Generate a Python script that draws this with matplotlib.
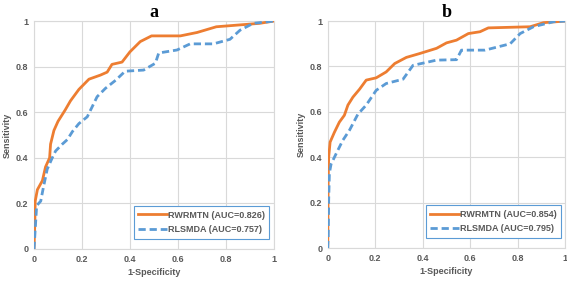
import matplotlib
matplotlib.use("Agg")
import matplotlib.pyplot as plt

# Panel a
a_rwr_x = [0, 0.003, 0.005, 0.014, 0.035, 0.048, 0.065, 0.069, 0.083, 0.10, 0.118, 0.13, 0.152, 0.187,
           0.229, 0.277, 0.305, 0.325, 0.367, 0.40, 0.443, 0.49, 0.61, 0.68, 0.76, 0.94, 1.0]
a_rwr_y = [0, 0.10, 0.21, 0.26, 0.30, 0.36, 0.40, 0.46, 0.52, 0.56, 0.59, 0.61, 0.65, 0.70,
           0.745, 0.763, 0.776, 0.81, 0.82, 0.865, 0.91, 0.935, 0.935, 0.95, 0.975, 0.99, 1.0]
a_rls_x = [0, 0.004, 0.011, 0.028, 0.039, 0.055, 0.076, 0.09, 0.118, 0.139, 0.16, 0.187, 0.222, 0.263,
           0.298, 0.34, 0.38, 0.457, 0.506, 0.52, 0.596, 0.651, 0.748, 0.817, 0.859, 0.914, 1.0]
a_rls_y = [0, 0.07, 0.19, 0.21, 0.27, 0.35, 0.40, 0.43, 0.46, 0.48, 0.515, 0.55, 0.58, 0.668,
           0.705, 0.74, 0.78, 0.785, 0.815, 0.86, 0.873, 0.90, 0.90, 0.92, 0.96, 0.99, 1.0]

# Panel b
b_rwr_x = [0, 0.002, 0.004, 0.01, 0.028, 0.049, 0.07, 0.085, 0.106, 0.134, 0.162, 0.204, 0.246, 0.282,
           0.331, 0.387, 0.458, 0.5, 0.542, 0.592, 0.641, 0.676, 0.852, 0.908, 1.0]
b_rwr_y = [0, 0.30, 0.40, 0.467, 0.51, 0.555, 0.585, 0.63, 0.665, 0.70, 0.74, 0.75, 0.776, 0.813,
           0.84, 0.857, 0.88, 0.904, 0.916, 0.945, 0.953, 0.97, 0.975, 0.993, 1.0]
b_rls_x = [0, 0.002, 0.004, 0.007, 0.014, 0.035, 0.063, 0.092, 0.127, 0.162, 0.204, 0.246, 0.317, 0.359,
           0.458, 0.542, 0.563, 0.662, 0.768, 0.81, 0.866, 0.95, 1.0]
b_rls_y = [0, 0.05, 0.21, 0.33, 0.37, 0.415, 0.474, 0.52, 0.59, 0.63, 0.695, 0.725, 0.744, 0.805,
           0.828, 0.83, 0.872, 0.872, 0.90, 0.945, 0.975, 0.997, 1.0]

panels = [
    ("a", a_rwr_x, a_rwr_y, a_rls_x, a_rls_y, "RWRMTN (AUC=0.826)", "RLSMDA (AUC=0.757)"),
    ("b", b_rwr_x, b_rwr_y, b_rls_x, b_rls_y, "RWRMTN (AUC=0.854)", "RLSMDA (AUC=0.795)"),
]
ticks = [0, 0.2, 0.4, 0.6, 0.8, 1]
tick_labels = ["0", "0.2", "0.4", "0.6", "0.8", "1"]

orange = "#ED7D31"
blue = "#5B9BD5"
grey_text = "#595959"
grid_c = "#D9D9D9"

fig = plt.figure(figsize=(5.67, 2.81), dpi=100)
rects = [[0.060, 0.114, 0.423, 0.811], [0.578, 0.117, 0.419, 0.808]]
for rect, (title, rx, ry, lx, ly, l1, l2) in zip(rects, panels):
    ax = fig.add_axes(rect)
    ax.plot(rx, ry, color=orange, lw=2.0, label=l1, solid_joinstyle="round", zorder=3)
    ax.plot(lx, ly, color=blue, lw=2.0, ls=(0, (2.6, 1.4)), label=l2, zorder=3)
    ax.set_xlim(0, 1)
    ax.set_ylim(0, 1)
    ax.set_xticks(ticks)
    ax.set_yticks(ticks)
    ax.set_xticklabels(tick_labels)
    ax.set_yticklabels(tick_labels)
    ax.grid(True, color=grid_c, lw=0.8)
    ax.set_axisbelow(True)
    for s in ax.spines.values():
        s.set_color(grid_c)
        s.set_linewidth(0.8)
    ax.tick_params(length=0, labelsize=6.5, labelcolor=grey_text, pad=4)
    for lab in ax.get_xticklabels() + ax.get_yticklabels():
        lab.set_fontweight("bold")
        lab.set_family("Liberation Sans")
    ax.set_xlabel("1-Specificity", fontsize=6.5, fontweight="bold", color=grey_text,
                  family="Liberation Sans", labelpad=3)
    ax.set_ylabel("Sensitivity", fontsize=6.5, fontweight="bold", color=grey_text,
                  family="Liberation Sans", labelpad=3)
    ax.set_title(title, fontsize=13, fontweight="bold", family="Liberation Serif", pad=1)
    leg = ax.legend(loc="lower right", bbox_to_anchor=(1.0, 0.026), fancybox=False,
                    edgecolor=blue, framealpha=1, handlelength=3.2, handletextpad=0.05,
                    borderpad=0.5, labelspacing=0.6,
                    prop={"family": "Liberation Sans", "weight": "bold", "size": 6.5})
    leg.get_frame().set_linewidth(0.8)
    for t in leg.get_texts():
        t.set_color(grey_text)

fig.savefig("out.png", dpi=100)
